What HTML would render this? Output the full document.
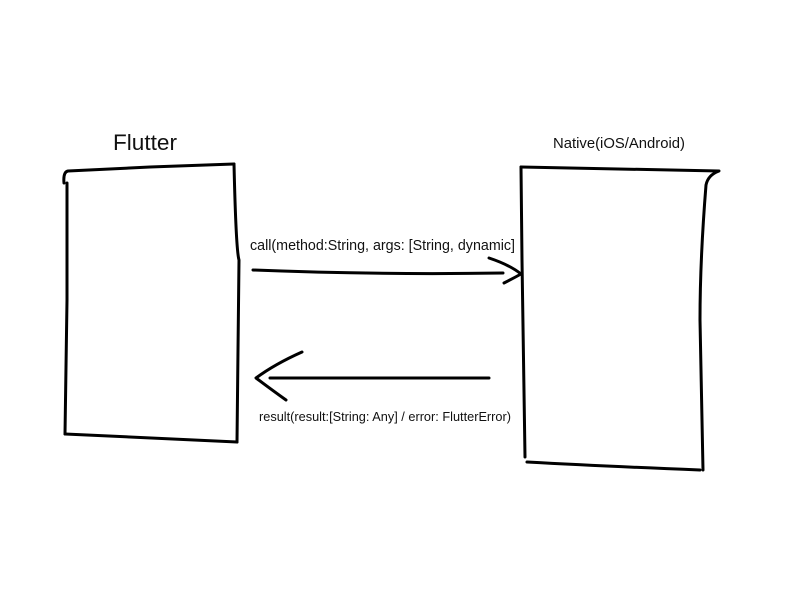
<!DOCTYPE html>
<html><head><meta charset="utf-8"><style>
html,body{margin:0;padding:0;background:#fff;}
svg{display:block;}
text{font-family:"Liberation Sans",sans-serif;fill:#111;}
</style></head><body>
<svg width="807" height="616" viewBox="0 0 807 616" xmlns="http://www.w3.org/2000/svg">
<rect width="807" height="616" fill="#fff"/>
<g fill="none" stroke="#000" stroke-width="3" stroke-linecap="round" stroke-linejoin="round">
<!-- Flutter box -->
<path d="M64,183 Q63,172 68,171 L150,167 L234,164"/>
<path d="M234,164 Q236,250 239,260 L238,350 L237,442"/>
<path d="M67,183 L67,300 L65,434"/>
<path d="M65,434 Q150,438 237,442"/>
<!-- Native box -->
<path d="M521,167 Q620,169 719,171 Q708,175 706,185 Q700,260 700,320 L703,470"/>
<path d="M521,167 L522,260 L525,457"/>
<path d="M527,462 Q600,466 700,470"/>
<!-- arrow 1 -->
<path d="M253,270 Q380,275 503,273"/>
<path d="M489,258 Q510,265 521,274 Q512,279 504,283"/>
<!-- arrow 2 -->
<path d="M270,378 L489,378"/>
<path d="M302,352 Q275,364 256,378 Q272,390 286,400"/>
</g>
<text x="113" y="150" font-size="22" textLength="64" lengthAdjust="spacingAndGlyphs">Flutter</text>
<text x="553" y="148" font-size="14.5" textLength="132" lengthAdjust="spacingAndGlyphs">Native(iOS/Android)</text>
<text x="250" y="250" font-size="14.5" textLength="265" lengthAdjust="spacingAndGlyphs">call(method:String, args: [String, dynamic]</text>
<text x="259" y="421" font-size="12.5" textLength="252" lengthAdjust="spacingAndGlyphs">result(result:[String: Any] / error: FlutterError)</text>
</svg>
</body></html>
